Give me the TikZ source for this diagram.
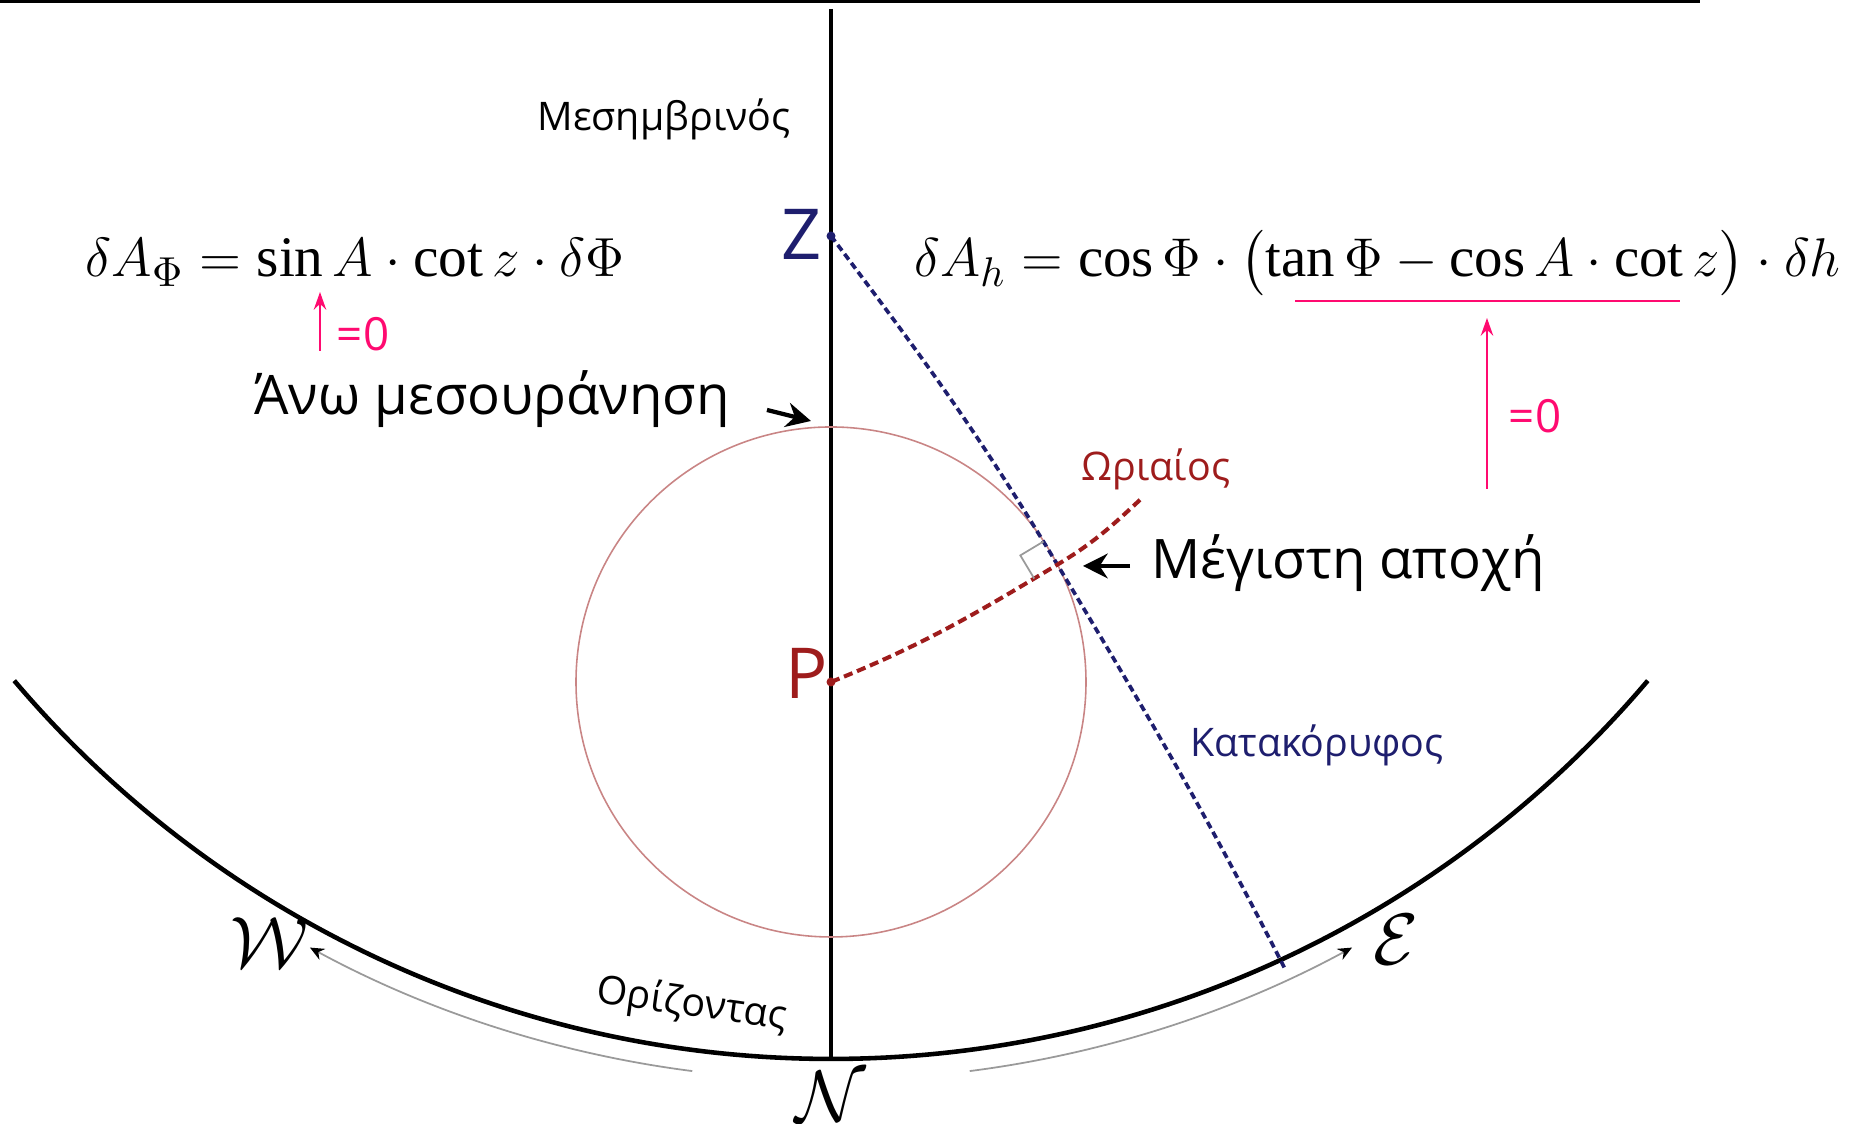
\documentclass[tikz,border=0pt]{standalone}
\usepackage{amsmath}
\usepackage{fontspec}
\setmainfont{Liberation Serif}
\newfontfamily\labelfont{Open Sans}
\usetikzlibrary{calc, positioning, arrows.meta}
\definecolor{color_navy}{HTML}{1E1E6E}
\definecolor{color_wine}{HTML}{9E1C1C}
\definecolor{color_rose}{HTML}{C98585}
\definecolor{color_pink}{HTML}{FF0A70}
\definecolor{color_grey}{HTML}{9A9A9A}
\tikzset{
  horizon_arc/.style={draw=black, line width=1.3pt},
  meridian_line/.style={draw=black, line width=0.95pt},
  diurnal_circle/.style={draw=color_rose, line width=0.45pt},
  vertical_line/.style={draw=color_navy, line width=1.05pt, dash pattern=on 2pt off 1.2pt},
  hour_line/.style={draw=color_wine, line width=1.15pt, dash pattern=on 2.6pt off 1.4pt},
  right_mark/.style={draw=color_grey, line width=0.5pt},
  greek_label/.style={font=\labelfont\fontsize{11.2}{13}\selectfont, inner sep=0pt},
  big_label/.style={font=\labelfont\fontsize{15.5}{18}\selectfont, inner sep=0pt},
  point_label/.style={font=\labelfont\fontsize{20}{24}\selectfont, inner sep=0pt},
  formula_node/.style={font=\fontsize{15}{18}\selectfont, inner sep=0pt},
  compass_label/.style={font=\fontsize{20}{24}\selectfont, inner sep=0pt},
  zero_label/.style={font=\labelfont\fontsize{13}{15}\selectfont, text=color_pink, inner sep=0pt},
  pointer_arrow/.style={-{Stealth[length=7pt, width=7pt]}, draw=black, line width=1.2pt},
  pink_arrow/.style={-{Stealth[length=5pt, width=3.5pt]}, draw=color_pink, line width=0.75pt},
  sense_arrow/.style={-{Stealth[length=4pt, width=3.5pt, color=black]}, draw=color_grey, line width=0.5pt},
}
\begin{document}
\begin{tikzpicture}[scale=1.0]
    \useasboundingbox (0,0) rectangle (18.49,11.24);
    \draw[line width=1.2pt] (0,11.23) -- (17.0,11.23);
    % main points
    \coordinate (H) at (8.31,11.36);
    \coordinate (meridian_top) at (8.31,11.15);
    \coordinate (N) at (8.31,0.65);
    \coordinate (Z) at (8.31,8.88);
    \coordinate (P) at (8.31,4.42);
    \coordinate (I) at ($(P)+(27.4:2.55)$);
    \coordinate (hour_end) at (11.42,6.26);
    \coordinate (vertical_end) at (12.85,1.55);
    \draw[meridian_line] (meridian_top) -- (N);
    \draw[horizon_arc] ($(H)+(220.3:10.71)$) arc[start angle=220.3, end angle=319.7, radius=10.71];
    \draw[diurnal_circle] (P) circle[radius=2.55];
    \draw[vertical_line] (Z) to[out=-53, in=121] (I) to[out=-59, in=117] (vertical_end);
    \draw[hour_line] (P) to[out=22, in=211] (I) to[out=31, in=223] (hour_end);
    \draw[right_mark] ($(I)+(121:0.27)$) -- ($(I)+(121:0.27)+(211:0.27)$) -- ($(I)+(211:0.27)$);
    \fill[color_navy] (Z) circle[radius=0.045];
    \fill[color_wine] (P) circle[radius=0.045];
    % labels
    \node[greek_label] (meridian_name) at (6.64,10.05) {Μεσημβρινός};
    \node[point_label, text=color_navy] (zenith_name) at (8.02,8.90) {Z};
    \node[point_label, text=color_wine] (pole_name) at (8.07,4.51) {P};
    \node[big_label] (culmination_name) at (4.92,7.25) {Άνω μεσουράνηση};
    \node[big_label] (elongation_name) at (13.48,5.61) {Μέγιστη αποχή};
    \node[greek_label, text=color_wine] (hour_name) at (11.56,6.55) {Ωριαίος};
    \node[greek_label, text=color_navy] (vertical_name) at (13.17,3.79) {Κατακόρυφος};
    \node[greek_label, rotate=-8] (horizon_name) at (6.92,1.19) {Ορίζοντας};
    \node[compass_label] (west_name) at (2.69,1.81) {$\mathcal{W}$};
    \node[compass_label] (north_name) at (8.31,0.27) {$\mathcal{N}$};
    \node[compass_label] (east_name) at (13.96,1.84) {$\mathcal{E}$};
    % formulas
    \node[formula_node, anchor=base west] (formula_phi) at (0.85,8.47)
      {\scalebox{1.088}{$\delta A_{\Phi} = \sin A\cdot\cot z\cdot\delta\Phi$}};
    \node[formula_node, anchor=base west] (formula_h) at (9.14,8.47)
      {\scalebox{1.078}{$\delta A_{h} = \cos\Phi\cdot\bigl(\tan\Phi - \cos A\cdot\cot z\bigr)\cdot\delta h$}};
    \node[zero_label] (zero_phi) at (3.63,7.90) {=0};
    \node[zero_label] (zero_h) at (15.35,7.08) {=0};
    \coordinate (under_left) at (12.95,8.23);
    \coordinate (under_right) at (16.80,8.23);
    \draw[color_pink, line width=0.75pt] (under_left) -- (under_right);
    % arrows
    \coordinate (phi_tail) at (3.20,7.73);
    \coordinate (phi_tip) at (3.20,8.32);
    \coordinate (h_tail) at (14.87,6.35);
    \coordinate (h_tip) at (14.87,8.06);
    \draw[pink_arrow] (phi_tail) -- (phi_tip);
    \draw[pink_arrow] (h_tail) -- (h_tip);
    \coordinate (culm_tail) at (7.67,7.14);
    \coordinate (culm_tip) at (8.11,7.03);
    \draw[pointer_arrow] (culm_tail) -- (culm_tip);
    \coordinate (elong_tail) at (11.30,5.58);
    \coordinate (elong_tip) at (10.83,5.58);
    \draw[pointer_arrow] (elong_tail) -- (elong_tip);
    \draw[sense_arrow] ($(H)+(262.7:10.92)$) arc[start angle=262.7, end angle=241.5, radius=10.92];
    \draw[sense_arrow] ($(H)+(277.3:10.92)$) arc[start angle=277.3, end angle=298.5, radius=10.92];
\end{tikzpicture}
\end{document}
